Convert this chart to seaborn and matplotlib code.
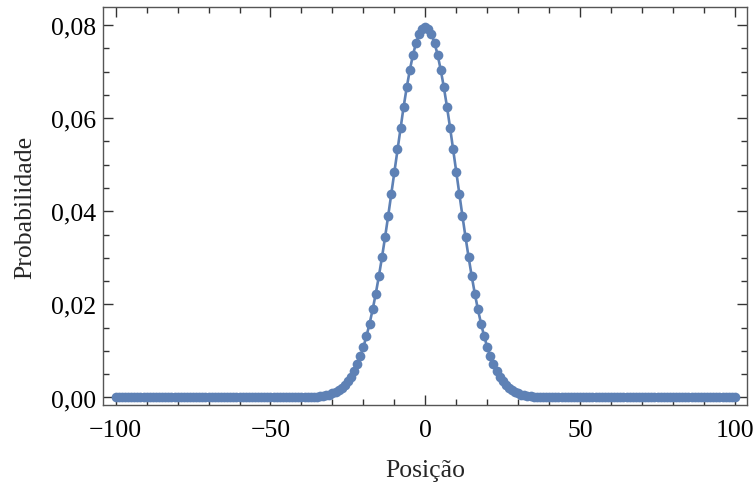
import matplotlib
matplotlib.use("Agg")
import matplotlib.pyplot as plt
import matplotlib.ticker as mticker
import seaborn as sns
import pandas as pd

positions = list(range(-100, 101))

zeros_left = [0.0, 0.0, 0.0, 0.0, 0.0, 0.0, 0.0, 0.0, 0.0, 0.0,
              0.0, 0.0, 0.0, 0.0, 0.0, 0.0, 0.0, 0.0, 0.0, 0.0,
              0.0, 0.0, 0.0, 0.0, 0.0, 0.0, 0.0, 0.0, 0.0, 0.0,
              0.0, 0.0, 0.0, 0.0, 0.0, 0.0, 0.0, 0.0, 0.0, 0.0,
              0.0, 0.0, 0.0, 0.0, 0.0, 0.0, 0.0, 0.0, 0.0, 0.0,
              0.0, 0.0, 0.0, 0.0, 0.0, 0.0, 0.0, 0.0, 0.0, 0.0]
left_side = [0.00002, 0.00003, 0.00005, 0.00008, 0.00011, 0.00016, 0.00023,
             0.00033, 0.00046, 0.00063, 0.00086, 0.00117, 0.00156, 0.00206,
             0.00270, 0.00349, 0.00447, 0.00567, 0.00711, 0.00883, 0.01084,
             0.01318, 0.01587, 0.01890, 0.02229, 0.02602, 0.03007, 0.03440,
             0.03895, 0.04367, 0.04847, 0.05327, 0.05796, 0.06244, 0.06659,
             0.07032, 0.07353, 0.07612, 0.07803, 0.07920]
peak = [0.07959]
right_side = [0.07920, 0.07803, 0.07612, 0.07353, 0.07032, 0.06659, 0.06244,
              0.05796, 0.05327, 0.04847, 0.04367, 0.03895, 0.03440, 0.03007,
              0.02602, 0.02229, 0.01890, 0.01587, 0.01318, 0.01084, 0.00883,
              0.00711, 0.00567, 0.00447, 0.00349, 0.00270, 0.00206, 0.00156,
              0.00117, 0.00086, 0.00063, 0.00046, 0.00033, 0.00023, 0.00016,
              0.00011, 0.00008, 0.00005, 0.00003, 0.00002]
zeros_right = [0.0, 0.0, 0.0, 0.0, 0.0, 0.0, 0.0, 0.0, 0.0, 0.0,
               0.0, 0.0, 0.0, 0.0, 0.0, 0.0, 0.0, 0.0, 0.0, 0.0,
               0.0, 0.0, 0.0, 0.0, 0.0, 0.0, 0.0, 0.0, 0.0, 0.0,
               0.0, 0.0, 0.0, 0.0, 0.0, 0.0, 0.0, 0.0, 0.0, 0.0,
               0.0, 0.0, 0.0, 0.0, 0.0, 0.0, 0.0, 0.0, 0.0, 0.0,
               0.0, 0.0, 0.0, 0.0, 0.0, 0.0, 0.0, 0.0, 0.0, 0.0]
probabilities = zeros_left + left_side + peak + right_side + zeros_right

x_label = "Posição"
y_label = "Probabilidade"

df = pd.DataFrame({"pos": positions, "prob": probabilities})

sns.set_style("ticks")
plt.rcParams["font.family"] = ["Liberation Serif", "DejaVu Serif"]
plt.rcParams["axes.unicode_minus"] = True

fig = plt.figure(figsize=(7.55, 4.85), dpi=100)
ax = fig.add_axes([0.136, 0.163, 0.8538, 0.8199])

color = "#5E81B5"
sns.lineplot(data=df, x="pos", y="prob", ax=ax, color=color, linewidth=1.9,
             marker="o", markersize=7.0, markeredgewidth=0, markerfacecolor=color)

ax.set_xlim(-104.2, 104.0)
ax.set_ylim(-0.0016, 0.0838)

ax.xaxis.set_major_locator(mticker.MultipleLocator(50))
ax.xaxis.set_minor_locator(mticker.MultipleLocator(10))
ax.yaxis.set_major_locator(mticker.MultipleLocator(0.02))
ax.yaxis.set_minor_locator(mticker.MultipleLocator(0.005))

ax.xaxis.set_major_formatter(mticker.FuncFormatter(
    lambda v, p: ("\u2212" if v < 0 else "") + f"{abs(v):.0f}"))
ax.yaxis.set_major_formatter(mticker.FuncFormatter(
    lambda v, p: f"{v:.2f}".replace(".", ",")))

ax.tick_params(which="both", direction="in", top=True, right=True,
               color="#333333", labelsize=18.5, labelcolor="black")
ax.tick_params(which="major", length=7, width=1)
ax.tick_params(which="minor", length=4, width=1)
ax.tick_params(axis="x", pad=10)
ax.tick_params(axis="y", pad=5)

for s in ax.spines.values():
    s.set_color("#555555")
    s.set_linewidth(1.0)

ax.set_xlabel(x_label, fontsize=18.5, labelpad=13)
ax.set_ylabel(y_label, fontsize=18.5, labelpad=10)

fig.savefig("out.png", dpi=100)
